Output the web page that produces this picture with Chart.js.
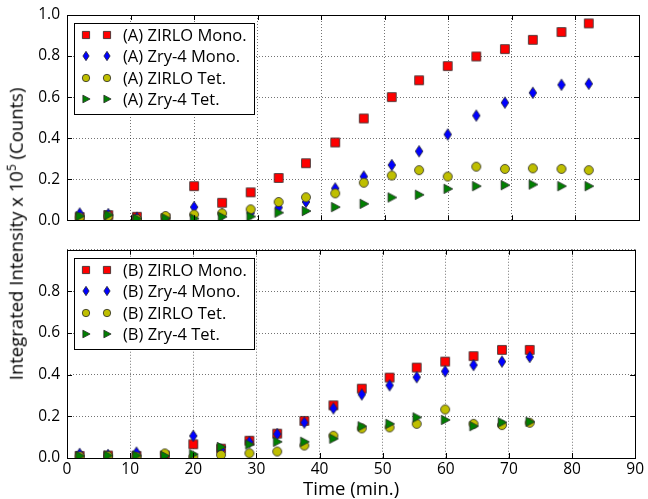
<!DOCTYPE html>
<html>
<head>
<meta charset="utf-8">
<script src="https://cdn.jsdelivr.net/npm/chart.js@4.4.1/dist/chart.umd.min.js"></script>
<style>
  html, body { margin: 0; padding: 0; background: #fff; }
  #wrap { position: relative; width: 648px; height: 499px; overflow: hidden; }
  canvas { position: absolute; left: 0; }
  #ytitle {
    position: absolute; left: 16px; top: 234px;
    transform: translate(-50%, -50%) rotate(-90deg);
    white-space: nowrap; font: 18.5px 'Open Sans', sans-serif; line-height: 1; color: #000;
  }
  #ytitle sup { font-size: 12px; vertical-align: 7px; line-height: 0; }
</style>
</head>
<body>
<div id="wrap">
  <canvas id="cA" width="648" height="235" style="top:0"></canvas>
  <canvas id="cB" width="648" height="264" style="top:235px"></canvas>
  <div id="ytitle">Integrated Intensity x 10<sup>5</sup> (Counts)</div>
</div>
<script>
// ---------- data ----------
const timesA = [2.0, 6.5, 11.0, 15.5, 20.0, 24.4, 28.9, 33.3, 37.6, 42.2, 46.7, 51.1, 55.4, 59.9, 64.4, 68.9, 73.3, 77.8, 82.1];
const zirloMonoA = [0.015, 0.025, 0.017, 0.010, 0.166, 0.085, 0.136, 0.206, 0.278, 0.379, 0.496, 0.600, 0.682, 0.751, 0.798, 0.834, 0.879, 0.917, 0.959];
const zry4MonoA  = [0.033, 0.030, 0.012, 0.010, 0.064, 0.030, 0.035, 0.062, 0.089, 0.155, 0.213, 0.269, 0.336, 0.418, 0.510, 0.573, 0.621, 0.660, 0.665];
const zirloTetA  = [0.014, 0.020, 0.005, 0.021, 0.028, 0.034, 0.053, 0.089, 0.112, 0.131, 0.183, 0.218, 0.244, 0.213, 0.261, 0.250, 0.253, 0.250, 0.244];
const zry4TetA   = [0.020, 0.025, 0.008, 0.010, 0.008, 0.017, 0.018, 0.037, 0.045, 0.064, 0.080, 0.111, 0.124, 0.153, 0.166, 0.171, 0.174, 0.166, 0.166];

const timesB = [2.0, 6.5, 11.0, 15.5, 20.0, 24.4, 28.9, 33.3, 37.6, 42.2, 46.7, 51.1, 55.4, 59.9, 64.4, 68.9, 73.3];
const zirloMonoB = [0.010, 0.012, 0.010, 0.012, 0.066, 0.045, 0.083, 0.117, 0.178, 0.253, 0.333, 0.386, 0.434, 0.463, 0.489, 0.519, 0.519];
const zry4MonoB  = [0.020, 0.015, 0.026, 0.012, 0.106, 0.040, 0.077, 0.115, 0.170, 0.238, 0.305, 0.349, 0.388, 0.416, 0.446, 0.463, 0.485];
const zirloTetB  = [0.008, 0.010, 0.006, 0.022, 0.005, 0.015, 0.023, 0.031, 0.060, 0.107, 0.142, 0.147, 0.164, 0.233, 0.164, 0.158, 0.169];
const zry4TetB   = [0.010, 0.012, 0.012, 0.010, 0.018, 0.053, 0.065, 0.078, 0.078, 0.093, 0.152, 0.164, 0.195, 0.183, 0.153, 0.171, 0.174];

const labelsA = ['(A) ZIRLO Mono.', '(A) Zry-4 Mono.', '(A) ZIRLO Tet.', '(A) Zry-4 Tet.'];
const labelsB = ['(B) ZIRLO Mono.', '(B) Zry-4 Mono.', '(B) ZIRLO Tet.', '(B) Zry-4 Tet.'];
const xTickValues = [0, 10, 20, 30, 40, 50, 60, 70, 80, 90];
const yTickValues = [0, 0.2, 0.4, 0.6, 0.8, 1.0];
const xAxisTitle = 'Time (min.)';

// ---------- marker images ----------
const FONT = "'Open Sans', sans-serif";
Chart.defaults.font.family = FONT;
Chart.defaults.color = '#000';

function makeMarker(shape, fill, s) {
  const c = document.createElement('canvas');
  c.width = 14; c.height = 14;
  const g = c.getContext('2d');
  g.translate(7, 7);
  g.scale(s, s);
  g.beginPath();
  if (shape === 'square') g.rect(-4.4, -4.4, 8.8, 8.8);
  else if (shape === 'diamond') { g.moveTo(0, -5.7); g.lineTo(3.8, 0); g.lineTo(0, 5.7); g.lineTo(-3.8, 0); g.closePath(); }
  else if (shape === 'circle') g.arc(0, 0, 4.5, 0, Math.PI * 2);
  else if (shape === 'tri') { g.moveTo(5.0, 0); g.lineTo(-3.8, -4.7); g.lineTo(-3.8, 4.7); g.closePath(); }
  g.fillStyle = fill; g.fill();
  g.lineWidth = 0.8 / s; g.strokeStyle = '#2a2a2a'; g.stroke();
  return c;
}
const styles = [
  ['square', '#ff0000'],
  ['diamond', '#0000ff'],
  ['circle', '#bfbf00'],
  ['tri', '#008000']
];
const plotMarkers = styles.map(s => makeMarker(s[0], s[1], 1));
const legendMarkers = styles.map(s => makeMarker(s[0], s[1], 0.82));

function pts(t, v) { return t.map((x, i) => ({ x: x, y: v[i] })); }

function makeDatasets(times, series, labels) {
  return series.map((vals, i) => ({
    label: labels[i],
    data: pts(times, vals),
    pointStyle: plotMarkers[i],
    pointRadius: 5,
    showLine: false,
    order: 4 - i,
    clip: 0
  }));
}

// ---------- matplotlib-like frame, inward ticks and legend ----------
const mplPlugin = {
  id: 'mplFrame',
  afterDraw(chart) {
    const { ctx, chartArea: a, scales: { x, y } } = chart;
    ctx.save();
    ctx.strokeStyle = '#000';
    ctx.lineWidth = 1;
    ctx.beginPath();
    xTickValues.forEach(t => {
      const px = Math.round(x.getPixelForValue(t)) + 0.5;
      ctx.moveTo(px, a.bottom); ctx.lineTo(px, a.bottom - 5);
      ctx.moveTo(px, a.top); ctx.lineTo(px, a.top + 5);
    });
    yTickValues.forEach(t => {
      const py = Math.round(y.getPixelForValue(t)) + 0.5;
      ctx.moveTo(a.left, py); ctx.lineTo(a.left + 5, py);
      ctx.moveTo(a.right, py); ctx.lineTo(a.right - 5, py);
    });
    ctx.stroke();
    ctx.strokeRect(Math.round(a.left) + 0.5, Math.round(a.top) + 0.5,
                   Math.round(a.right - a.left), Math.round(a.bottom - a.top));

    // legend box
    const lx = Math.round(a.left) + 7, ly = Math.round(a.top) + 8;
    ctx.fillStyle = '#fff';
    ctx.fillRect(lx, ly, 180, 91);
    ctx.strokeRect(lx + 0.5, ly + 0.5, 180, 91);
    ctx.font = '16.5px ' + FONT;
    ctx.textBaseline = 'middle';
    ctx.textAlign = 'left';
    ctx.fillStyle = '#000';
    chart.data.datasets.forEach((ds, i) => {
      const cy = Math.round(a.top + 20 + 21.4 * i);
      const m = legendMarkers[i];
      ctx.drawImage(m, Math.round(a.left + 19) - 7, cy - 7);
      ctx.drawImage(m, Math.round(a.left + 40) - 7, cy - 7);
      ctx.fillText(ds.label, a.left + 56, cy + 1);
    });
    ctx.restore();
  }
};

const gridCommon = { drawTicks: false, color: 'rgba(0,0,0,0.55)', lineWidth: 1 };
const borderCommon = { display: false, dash: [1, 2] };

function makeChart(id, datasets, bottomPanel) {
  return new Chart(document.getElementById(id), {
    type: 'scatter',
    data: { datasets: datasets },
    plugins: [mplPlugin],
    options: {
      responsive: false,
      animation: false,
      devicePixelRatio: 1,
      layout: { padding: { top: bottomPanel ? 10 : 15, right: 9, left: 0, bottom: 0 } },
      plugins: { legend: { display: false }, tooltip: { enabled: false } },
      scales: {
        x: {
          type: 'linear', min: 0, max: 90,
          ticks: { stepSize: 10, display: bottomPanel, padding: 4, font: { size: 15.5, lineHeight: 1 },
                   callback: v => String(v) },
          grid: gridCommon, border: borderCommon,
          title: { display: bottomPanel, text: xAxisTitle, font: { size: 18.5, lineHeight: 1.0 }, padding: { top: 0, bottom: 0 } },
          afterFit(s) { s.height = bottomPanel ? 41 : 7; }
        },
        y: {
          type: 'linear', min: 0, max: 1,
          ticks: { stepSize: 0.2, padding: 7, font: { size: 15.5, lineHeight: 1 },
                   callback: v => (bottomPanel && v > 0.99) ? '' : v.toFixed(1) },
          grid: gridCommon, border: borderCommon,
          afterFit(s) { s.width = 67; }
        }
      }
    }
  });
}

makeChart('cA', makeDatasets(timesA, [zirloMonoA, zry4MonoA, zirloTetA, zry4TetA], labelsA), false);
makeChart('cB', makeDatasets(timesB, [zirloMonoB, zry4MonoB, zirloTetB, zry4TetB], labelsB), true);
</script>
</body>
</html>
